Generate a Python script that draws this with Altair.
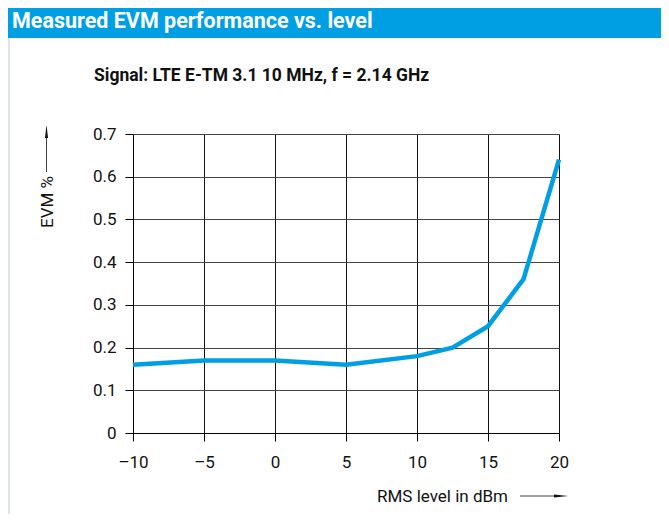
import altair as alt
import pandas as pd

# ---- data ----
level_dbm = [-10, -5, 0, 5, 10, 12.5, 15, 17.5, 20]
evm_pct = [0.16, 0.17, 0.17, 0.16, 0.18, 0.20, 0.25, 0.36, 0.64]
x_ticks = [-10, -5, 0, 5, 10, 15, 20]
y_ticks = [0, 0.1, 0.2, 0.3, 0.4, 0.5, 0.6, 0.7]

title_text = "Measured EVM performance vs. level"
subtitle_text = "Signal: LTE E-TM 3.1 10 MHz, f = 2.14 GHz"
x_title = "RMS level in dBm"
y_title = "EVM %"

# ---- layout ----
W, H = 426, 299
PL, PT = 125, 126
TOTAL_W, TOTAL_H = 653, 506
BLUE = "#009FE3"
FONT = "Roboto, sans-serif"

df = pd.DataFrame({"level": level_dbm, "evm": evm_pct})
one = pd.DataFrame({"k": [0]})

xs = alt.Scale(domain=[-10, 20], nice=False, zero=False)
ys = alt.Scale(domain=[0, 0.7], nice=False, zero=False)

line = alt.Chart(df).mark_line(color=BLUE, strokeWidth=4.5, clip=False).encode(
    x=alt.X("level:Q", scale=xs, title=None,
            axis=alt.Axis(values=x_ticks, grid=True, gridColor="#111", gridWidth=1,
                          domainColor="#000", tickColor="#000", tickSize=8,
                          labelFont=FONT, labelFontSize=17, labelColor="#111",
                          labelPadding=13.5, labelFlush=False, labelOverlap=False,
                          labelExpr="datum.value < 0 ? '\u2013' + abs(datum.value) : '' + datum.value")),
    y=alt.Y("evm:Q", scale=ys, title=None,
            axis=alt.Axis(values=y_ticks, grid=True, gridColor="#444", gridWidth=1,
                          domainColor="#000", tickColor="#000", tickSize=8,
                          labelFont=FONT, labelFontSize=17, labelColor="#111",
                          labelPadding=9, labelFlush=False, labelOverlap=False,
                          format=".1~f")),
)

band = alt.Chart(one).mark_rect(color=BLUE).encode(
    x=alt.value(-PL), x2=alt.value(TOTAL_W - PL),
    y=alt.value(-PT), y2=alt.value(38 - 8 - PT),
)
border = alt.Chart(one).mark_rule(color="#DDE3E8", strokeWidth=2).encode(
    x=alt.value(-PL + 1), y=alt.value(38 - 8 - PT), y2=alt.value(TOTAL_H - PT),
)
title = alt.Chart(one).mark_text(
    text=title_text, color="white", font=FONT, fontSize=21.5, fontWeight="bold",
    align="left", baseline="alphabetic",
).encode(x=alt.value(12 - 8 - PL), y=alt.value(28 - 8 - PT))

subtitle = alt.Chart(one).mark_text(
    text=subtitle_text, color="#111", font=FONT, fontSize=17.5, fontWeight="bold",
    align="left", baseline="alphabetic",
).encode(x=alt.value(94 - 133), y=alt.value(80.5 - 134))

ytitle = alt.Chart(one).mark_text(
    text=y_title, color="#111", font=FONT, fontSize=17, angle=270,
    align="center", baseline="alphabetic",
).encode(x=alt.value(52.5 - 133), y=alt.value(202 - 134))

y_shaft = alt.Chart(one).mark_rule(color="#444", strokeWidth=1).encode(
    x=alt.value(46.5 - 133), y=alt.value(137 - 134), y2=alt.value(172 - 134),
)
y_head = alt.Chart(one).mark_point(
    shape="M0,-1 L0.24,1 L-0.24,1 Z", filled=True, color="#111", size=169, opacity=1,
).encode(x=alt.value(46.5 - 133), y=alt.value(131.5 - 134))

xtitle = alt.Chart(one).mark_text(
    text=x_title, color="#111", font=FONT, fontSize=17,
    align="right", baseline="alphabetic",
).encode(x=alt.value(508 - 133), y=alt.value(502 - 134))

x_shaft = alt.Chart(one).mark_rule(color="#444", strokeWidth=1).encode(
    x=alt.value(520 - 133), x2=alt.value(555 - 133), y=alt.value(496 - 134),
)
x_head = alt.Chart(one).mark_point(
    shape="M1,0 L-1,0.23 L-1,-0.23 Z", filled=True, color="#111", size=196, opacity=1,
).encode(x=alt.value(561 - 133), y=alt.value(496 - 134))

chart = alt.layer(
    band, border, line, title, subtitle, ytitle, y_shaft, y_head, xtitle, x_shaft, x_head
).properties(
    width=W, height=H,
    autosize=alt.AutoSizeParams(type="none"),
    padding={"left": PL, "top": PT, "right": TOTAL_W - PL - W, "bottom": TOTAL_H - PT - H},
).configure_view(stroke=None).configure(background="white")

chart.save("out.html", embed_options={"renderer": "svg", "actions": False})
